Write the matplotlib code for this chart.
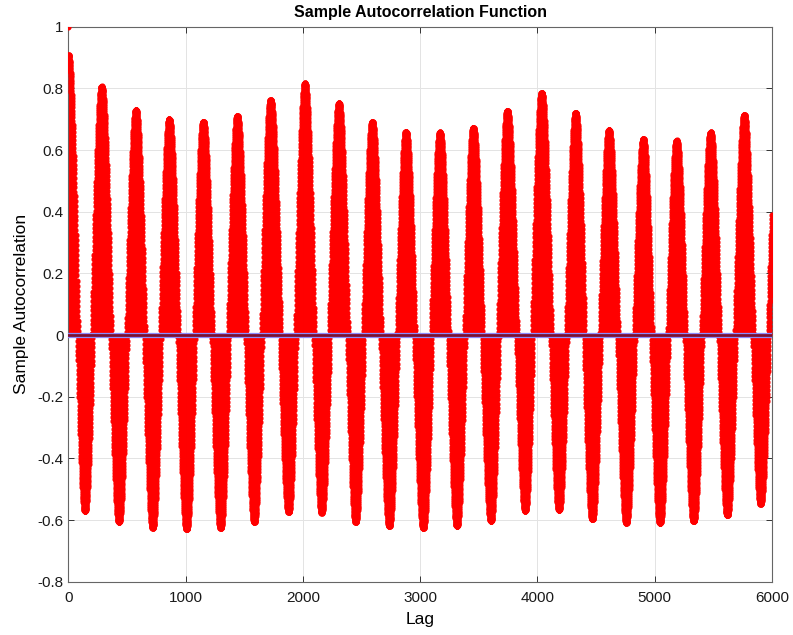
import numpy as np
import matplotlib.pyplot as plt
from matplotlib.ticker import FuncFormatter

plt.rcParams['font.family'] = ['Liberation Sans', 'DejaVu Sans']

# extrema of the sample ACF (lag, value)
start_lags = [0, 1]
start_vals = [1.0, 0.908]

peak_lags = [285, 577, 861, 1151, 1441, 1725, 2018, 2308, 2592, 2879,
             3169, 3453, 3743, 4036, 4326, 4610, 4903, 5187, 5477, 5764, 6055]
peak_vals = [0.806, 0.730, 0.700, 0.692, 0.711, 0.762, 0.816, 0.752, 0.691, 0.660,
             0.657, 0.673, 0.728, 0.786, 0.721, 0.665, 0.636, 0.631, 0.657, 0.714, 0.77]

trough_lags = [142, 432, 720, 1009, 1299, 1586, 1879, 2160, 2450, 2737,
               3027, 3314, 3604, 3896, 4184, 4468, 4758, 5045, 5332, 5619, 5903]
trough_vals = [-0.571, -0.607, -0.625, -0.630, -0.626, -0.607, -0.574, -0.576, -0.607, -0.620,
               -0.626, -0.620, -0.604, -0.570, -0.568, -0.598, -0.609, -0.611, -0.604, -0.585, -0.547]

max_lag = 6000
conf_bound = 0.007

# join the extrema and fill each half-cycle with a half-cosine
ext_lags = np.array(start_lags + peak_lags + trough_lags, dtype=float)
ext_vals = np.array(start_vals + peak_vals + trough_vals)
order = np.argsort(ext_lags)
ext_lags, ext_vals = ext_lags[order], ext_vals[order]

lags = np.arange(0, max_lag + 1)
idx = np.clip(np.searchsorted(ext_lags, lags, side='right') - 1, 0, len(ext_lags) - 2)
f = (lags - ext_lags[idx]) / (ext_lags[idx + 1] - ext_lags[idx])
acf = ext_vals[idx] + (ext_vals[idx + 1] - ext_vals[idx]) * (1 - np.cos(np.pi * f)) / 2

fig = plt.figure(figsize=(7.93, 6.35), dpi=100)
ax = fig.add_axes([0.0861, 0.0839, 0.9735 - 0.0861, 0.958 - 0.0839])

ax.vlines(lags, 0, acf, color='#ff0000', lw=0.6, zorder=2)
ax.plot(lags, acf, 'o', ms=3.4, color='#ff0000', mec='#ff0000', zorder=3)

# baseline and confidence bounds
ax.axhspan(-conf_bound, conf_bound, color='#7d0f30', lw=0, zorder=4)
ax.axhline(conf_bound, color='#8c8cff', lw=0.9, zorder=5)
ax.axhline(-conf_bound, color='#8c8cff', lw=0.9, zorder=5)

ax.set_xlim(0, max_lag)
ax.set_ylim(-0.8, 1)
ax.set_xticks(np.arange(0, 6001, 1000))
ax.set_yticks(np.arange(-0.8, 1.01, 0.2))
ax.yaxis.set_major_formatter(FuncFormatter(lambda v, p: f'{round(v, 1) + 0.0:g}'))

ax.grid(True, color='#e3e3e3', lw=0.7)
ax.set_axisbelow(True)
ax.tick_params(direction='in', top=True, right=True, length=4, width=0.7,
               colors='#333333', labelsize=11, labelcolor='#1a1a1a')
ax.tick_params(axis='x', pad=7)
for s in ax.spines.values():
    s.set_color('#666666')
    s.set_linewidth(0.8)

ax.set_title('Sample Autocorrelation Function', fontsize=11.5, fontweight='bold', pad=7)
ax.set_xlabel('Lag', fontsize=12.5, labelpad=5)
ax.set_ylabel('Sample Autocorrelation', fontsize=12.5, labelpad=6)

plt.savefig('out.png', dpi=100)
